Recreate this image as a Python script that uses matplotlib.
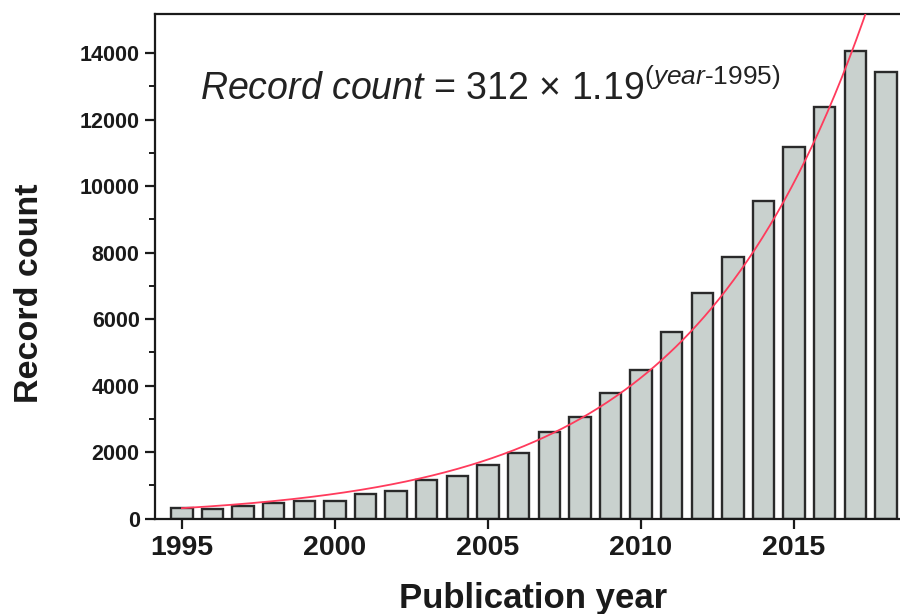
import matplotlib
matplotlib.use("Agg")
import matplotlib.pyplot as plt
import numpy as np

plt.rcParams['font.family'] = ['Liberation Sans', 'DejaVu Sans']
plt.rcParams['mathtext.fontset'] = 'custom'
plt.rcParams['mathtext.rm'] = 'Liberation Sans'
plt.rcParams['mathtext.it'] = 'Liberation Sans:italic'
plt.rcParams['mathtext.bf'] = 'Liberation Sans:bold'

years = list(range(1995, 2019))
record_counts = [307, 286, 376, 475, 535, 526, 728, 827, 1167, 1278, 1618, 1961,
                 2593, 3044, 3785, 4467, 5619, 6792, 7875, 9551, 11184, 12387,
                 14072, 13440]
fit_base = 312
fit_rate = 1.19
fit_start = 1995
y_ticks = [0, 2000, 4000, 6000, 8000, 10000, 12000, 14000]
x_ticks = [1995, 2000, 2005, 2010, 2015]

fig = plt.figure(figsize=(9, 6.14), dpi=100)
ax = fig.add_axes([0.1722, 0.1555, 0.8278, 0.8217])

ax.bar(years, record_counts, width=0.7, color='#c9d1ce', edgecolor='#2a2a2a',
       linewidth=1.7, zorder=2)

xs = np.linspace(fit_start, 2018.5, 400)
ax.plot(xs, fit_base * fit_rate ** (xs - fit_start), color='#ff3b5c',
        linewidth=1.3, zorder=3)

ax.set_xlim(1994.12, 2018.46)
ax.set_ylim(0, 15180)
ax.set_xticks(x_ticks)
ax.set_yticks(y_ticks)
ax.set_yticks(np.arange(1000, 15000, 2000), minor=True)

for side in ['left', 'bottom', 'top']:
    ax.spines[side].set_linewidth(1.6)
    ax.spines[side].set_color('#1a1a1a')
ax.spines['right'].set_visible(False)

ax.tick_params(axis='both', which='major', direction='out', length=7, width=1.6,
               colors='#1a1a1a', pad=4)
ax.tick_params(axis='y', which='major', labelsize=15.5)
ax.tick_params(axis='x', which='major', labelsize=20.5, pad=5)
ax.tick_params(axis='y', which='minor', direction='out', length=4, width=1.4,
               colors='#1a1a1a')
for lbl in ax.get_xticklabels() + ax.get_yticklabels():
    lbl.set_fontweight('bold')

ax.set_xlabel('Publication year', fontsize=25, fontweight='bold',
              color='#1a1a1a')
ax.set_ylabel('Record count', fontsize=24.5, fontweight='bold',
              color='#1a1a1a')
ax.xaxis.set_label_coords(0.507, -0.125)
ax.yaxis.set_label_coords(-0.148, 0.447)

ax.text(0.060, 0.83,
        r'$\mathit{Record\ count}$ = 312 $\times$ 1.19$^{(\mathit{year}\mathrm{\text{-}1995})}$',
        transform=ax.transAxes, fontsize=27, color='#222222', va='baseline',
        ha='left')

fig.savefig('out.png', dpi=100)
